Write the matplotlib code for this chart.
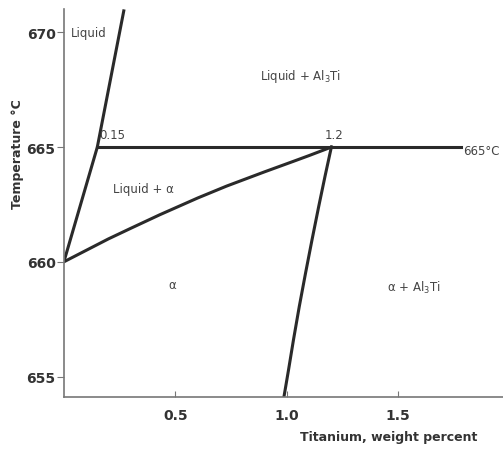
import numpy as np
import matplotlib
matplotlib.use("Agg")
import matplotlib.pyplot as plt

# phase boundaries (Ti wt%, temperature in C)
liquidus_x = [0.0, 0.15, 0.27]
liquidus_t = [660.0, 665.0, 671.0]

solidus_x = [0.0, 0.1, 0.2, 0.3, 0.43, 0.6, 0.73, 0.9, 1.03, 1.1, 1.2]
solidus_t = [660.0, 660.5, 661.0, 661.46, 662.05, 662.78, 663.3, 663.92, 664.38, 664.63, 665.0]

solvus_x = [1.2, 1.172, 1.143, 1.113, 1.084, 1.056, 1.030, 1.008, 0.987]
solvus_t = [665.0, 663.75, 662.4, 660.95, 659.5, 658.05, 656.6, 655.3, 654.1]

peritectic_x = [0.15, 1.78]
peritectic_t = [665.0, 665.0]

xticks = [0.5, 1.0, 1.5]
yticks = [655, 660, 665, 670]

fig = plt.figure(figsize=(5.03, 4.52), dpi=100)
ax = fig.add_axes([0.127, 0.119, 0.873, 0.858])

lc = "#2a2a2a"
ax.plot(liquidus_x, liquidus_t, color=lc, lw=2.2, solid_capstyle="butt")
ax.plot(solidus_x, solidus_t, color=lc, lw=2.2)
ax.plot(solvus_x, solvus_t, color=lc, lw=2.2)
ax.plot(peritectic_x, peritectic_t, color=lc, lw=2.2)

ax.set_xlim(0, 1.97)
ax.set_ylim(654.1, 671.0)

for s in ["top", "right"]:
    ax.spines[s].set_visible(False)
for s in ["left", "bottom"]:
    ax.spines[s].set_color("#777777")
    ax.spines[s].set_linewidth(1.2)

ax.set_xticks(xticks)
ax.set_xticklabels(["0.5", "1.0", "1.5"])
ax.set_yticks(yticks)
ax.tick_params(axis="x", direction="in", length=4, color="#777777", labelsize=10, pad=8)
ax.tick_params(axis="y", direction="out", length=5, color="#777777", labelsize=10, pad=1)
for lab in ax.get_xticklabels() + ax.get_yticklabels():
    lab.set_fontweight("bold")
    lab.set_color("#333333")

ax.set_ylabel("Temperature °C", fontsize=9, fontweight="bold", color="#333333", labelpad=8)
ax.yaxis.set_label_coords(-0.09, 0.63)
ax.set_xlabel("Titanium, weight percent", fontsize=9, fontweight="bold", color="#333333")
ax.xaxis.set_label_coords(0.74, -0.085)

tc = "#444444"
ax.text(0.03, 670.0, "Liquid", fontsize=8.5, color=tc, va="center")
ax.text(1.06, 668.1, "Liquid + Al$_3$Ti", fontsize=8.5, color=tc, ha="center", va="center")
ax.text(0.16, 665.25, "0.15", fontsize=8.5, color=tc, va="bottom")
ax.text(1.21, 665.25, "1.2", fontsize=8.5, color=tc, ha="center", va="bottom")
ax.text(0.355, 663.2, "Liquid + α", fontsize=8.5, color=tc, ha="center", va="center")
ax.text(0.485, 659.0, "α", fontsize=8.5, color=tc, ha="center", va="center")
ax.text(1.57, 658.9, "α + Al$_3$Ti", fontsize=8.5, color=tc, ha="center", va="center")
ax.text(1.79, 664.85, "665°C", fontsize=8.5, color=tc, va="center")

fig.savefig("out.png", dpi=100)
